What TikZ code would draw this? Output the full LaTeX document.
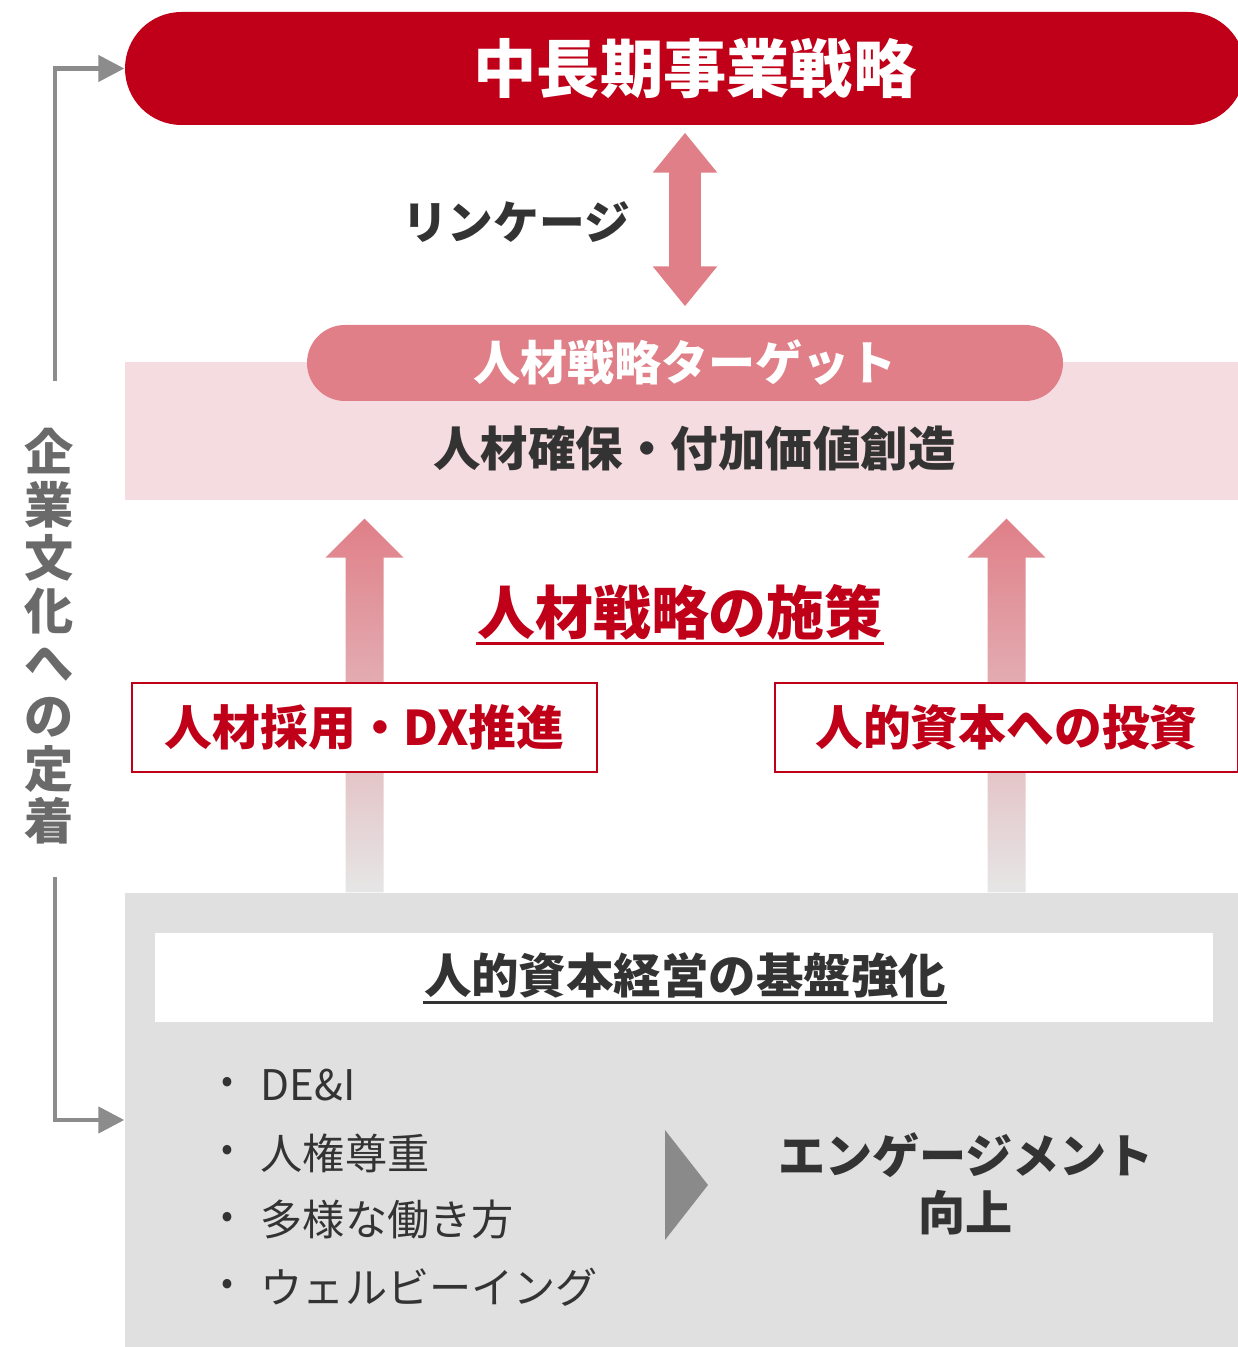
\documentclass[tikz,border=0pt]{standalone}
\usepackage{fontspec}
\setmainfont{Noto Sans CJK JP}
\usepackage{xcolor}
\usetikzlibrary{positioning,calc,backgrounds,arrows.meta}
\definecolor{strategyred}{RGB}{192,0,24}
\definecolor{linkpink}{RGB}{224,127,136}
\definecolor{bandpink}{RGB}{245,220,224}
\definecolor{textdark}{RGB}{51,51,51}
\definecolor{basegray}{RGB}{224,224,224}
\definecolor{shaftgray}{RGB}{230,230,230}
\definecolor{bracketgray}{RGB}{140,140,140}
\definecolor{culturegray}{RGB}{106,106,106}
\definecolor{trigray}{RGB}{138,138,138}

\begin{document}
\begin{tikzpicture}[
    strategybar/.style={fill=strategyred, text=white, rounded corners=5.65mm, minimum width=11.2cm, minimum height=1.13cm, inner sep=0pt, font=\bfseries\fontsize{18}{20}\selectfont},
    targetpill/.style={fill=linkpink, text=white, rounded corners=3.8mm, minimum width=7.56cm, minimum height=0.76cm, inner sep=0pt, font=\bfseries\fontsize{13.4}{15}\selectfont},
    redbox/.style={draw=strategyred, line width=0.85pt, fill=white, text=strategyred, minimum height=0.89cm, inner sep=0pt, font=\bfseries\fontsize{13.6}{15}\selectfont},
    darktext/.style={text=textdark, inner sep=0pt, font=\bfseries\fontsize{13.5}{15}\selectfont},
    item/.style={text=textdark, inner sep=0pt, anchor=west, font=\fontsize{12}{14}\selectfont},
    bracket/.style={draw=bracketgray, line width=0.045cm, -{Triangle[length=0.26cm,width=0.26cm]}},
  ]
  \useasboundingbox (0,0) rectangle (12.38,13.47);

  % top: mid-term strategy
  \node[strategybar] (strategy) at (6.85,12.785) {\hspace*{0.2cm}中長期事業戦略};

  % target band
  \node[fill=bandpink, minimum width=11.13cm, minimum height=1.38cm, inner sep=0pt] (band) at (6.815,9.16) {};
  \node[targetpill] (target) at (6.85,9.84) {人材戦略ターゲット};
  \node[darktext] (goal) at (6.945,8.99) {人材確保・付加価値創造};

  % linkage
  \draw[linkpink, line width=0.32cm, {Triangle[length=0.40cm,width=0.62cm]}-{Triangle[length=0.40cm,width=0.62cm]}]
    ([yshift=1.8mm]target.north) -- ([yshift=-0.7mm]target.north |- strategy.south);
  \node[text=textdark, inner sep=0pt, font=\bfseries\fontsize{13}{15}\selectfont] (linkage) at (5.16,11.25) {リンケージ};

  % measures
  \node[text=strategyred, inner sep=0pt, font=\bfseries\fontsize{16.5}{18}\selectfont] (measures) at (6.80,7.35) {人材戦略の施策};
  \draw[strategyred, line width=0.85pt] ([yshift=-0.09cm]measures.base west) -- ([yshift=-0.09cm]measures.base east);
  \node[redbox, minimum width=4.65cm] (hire) at (3.645,6.195) {人材採用・DX推進};
  \node[redbox, minimum width=4.63cm] (invest) at (10.065,6.195) {人的資本への投資};

  % foundation
  \node[fill=basegray, minimum width=11.13cm, minimum height=4.54cm, inner sep=0pt] (base) at (6.815,2.27) {};
  \node[fill=white, minimum width=10.58cm, minimum height=0.89cm, inner sep=0pt] (basebox) at (6.84,3.695) {};
  \node[darktext] (basetitle) at (6.85,3.72) {人的資本経営の基盤強化};
  \draw[textdark, line width=0.85pt] ([yshift=-0.09cm]basetitle.base west) -- ([yshift=-0.09cm]basetitle.base east);

  \foreach \t/\y [count=\i] in {DE\&I/2.62, 人権尊重/1.94, 多様な働き方/1.27, ウェルビーイング/0.60} {
    \node[text=textdark, inner sep=0pt, font=\fontsize{10}{12}\selectfont] (dot\i) at (2.27,\y) {•};
    \node[item] (item\i) at (2.60,\y) {\t};
  }
  \fill[trigray] (6.65,2.17) -- (7.08,1.62) -- (6.65,1.07) -- cycle;
  \node[darktext, align=center, font=\bfseries\fontsize{13.4}{16.4}\selectfont] (engage) at (9.66,1.63) {エンゲージメント\\向上};

  % gradient arrows up to the band
  \begin{scope}[on background layer]
    \foreach \b in {hire,invest} {
      \coordinate (tip) at ($(\b.center |- band.south)+(0,-0.18)$);
      \coordinate (foot) at (\b.center |- base.north);
      \shade[top color=linkpink, bottom color=shaftgray]
        (tip) -- ++(0.39,-0.39) -- ++(-0.2,0) -- ($(foot)+(0.19,0)$) -- ($(foot)+(-0.19,0)$)
        -- ($(tip)+(-0.19,-0.39)$) -- ++(-0.2,0) -- cycle;
    }
  \end{scope}

  % corporate culture
  \node[text=culturegray, inner sep=0pt, align=center, font=\bfseries\fontsize{14}{15}\selectfont] (culture) at (0.49,7.105)
    {企\\業\\文\\化\\へ\\の\\定\\着};
  \draw[bracket] ([xshift=0.6mm,yshift=0.47cm]culture.north) |- (strategy.west);
  \draw[bracket] ([xshift=0.6mm,yshift=-0.32cm]culture.south) |- (base.west);
\end{tikzpicture}
\end{document}
